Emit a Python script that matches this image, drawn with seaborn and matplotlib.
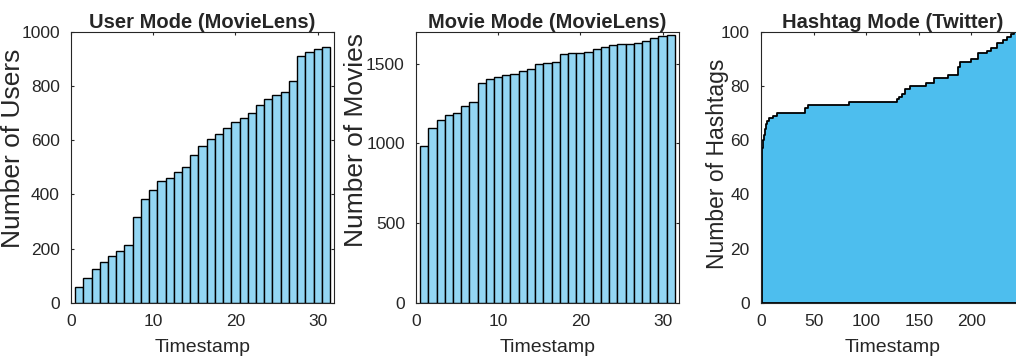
import matplotlib
matplotlib.use("Agg")
import matplotlib.pyplot as plt
import seaborn as sns

# Cumulative counts per timestamp (MovieLens)
timestamps = list(range(1, 32))
users = [57, 90, 123, 152, 173, 189, 213, 315, 384, 416, 449, 461, 482, 501, 544,
         577, 603, 621, 646, 665, 683, 701, 731, 750, 766, 777, 817, 909, 926, 937, 945]
movies = [982, 1093, 1145, 1176, 1191, 1237, 1256, 1381, 1404, 1414, 1429, 1435, 1452,
          1469, 1500, 1506, 1512, 1560, 1564, 1568, 1575, 1592, 1606, 1617, 1625, 1625,
          1627, 1644, 1661, 1673, 1680]

# Hashtag mode (Twitter): timestamps where the cumulative count changes, and the count
hashtag_ts = [1, 2, 3, 4, 5, 6, 8, 11, 15, 42, 45, 84, 129, 131, 134, 137, 142, 157,
              164, 178, 187, 189, 200, 206, 215, 219, 224, 230, 234, 238, 240]
hashtag_count = [57, 60, 62, 64, 66, 67, 68, 69, 70, 72, 73, 74, 75, 76, 77, 79, 80, 81,
                 83, 84, 87, 89, 90, 92, 93, 94, 96, 97, 98, 99, 100]
hashtag_end = 246

sns.set_style("ticks")
plt.rcParams["font.family"] = ["Liberation Sans", "DejaVu Sans"]
plt.rcParams["axes.edgecolor"] = "#262626"
plt.rcParams["xtick.color"] = "#262626"
plt.rcParams["ytick.color"] = "#262626"
plt.rcParams["xtick.direction"] = "in"
plt.rcParams["ytick.direction"] = "in"

fig = plt.figure(figsize=(10.16, 3.64), dpi=100)
w, h, b = 0.2589, 0.7445, 0.1684
ax1 = fig.add_axes([0.0699, b, w, h])
ax2 = fig.add_axes([0.4094, b, w, h])
ax3 = fig.add_axes([0.7490, b, w, h])

light = "#93D6F3"
sns.histplot(x=timestamps, weights=users, discrete=True, color=light, alpha=1,
             edgecolor="black", linewidth=1.0, ax=ax1)
sns.histplot(x=timestamps, weights=movies, discrete=True, color=light, alpha=1,
             edgecolor="black", linewidth=1.0, ax=ax2)
sns.histplot(x=hashtag_ts, weights=hashtag_count, bins=hashtag_ts + [hashtag_end],
             element="step", fill=True, color="#4DBEEE", alpha=1,
             edgecolor="black", linewidth=1.3, ax=ax3)

ax1.set(xlim=(0, 32), ylim=(0, 1000), xticks=[0, 10, 20, 30],
        yticks=[0, 200, 400, 600, 800, 1000])
ax2.set(xlim=(0, 32), ylim=(0, 1700), xticks=[0, 10, 20, 30],
        yticks=[0, 500, 1000, 1500])
ax3.set(xlim=(0, 250), ylim=(0, 100), xticks=[0, 50, 100, 150, 200],
        yticks=[0, 20, 40, 60, 80, 100])

titles = ["User Mode (MovieLens)", "Movie Mode (MovieLens)", "Hashtag Mode (Twitter)"]
ylabels = ["Number of Users", "Number of Movies", "Number of Hashtags"]
ylabel_pos = [(-0.175, 0.571), (-0.183, 0.60), (-0.12, 0.512)]
ylabel_size = [19, 19, 16.5]
for ax, t, yl, pos, fs in zip([ax1, ax2, ax3], titles, ylabels, ylabel_pos, ylabel_size):
    ax.set_title(t, fontsize=14.5, fontweight="bold", pad=3)
    ax.set_xlabel("Timestamp", fontsize=14, color="#262626", labelpad=7)
    ax.set_ylabel(yl, fontsize=fs, color="#262626")
    ax.yaxis.set_label_coords(*pos)
    ax.tick_params(labelsize=12.5, length=2.5, width=0.8, top=True, right=True)
    ax.tick_params(axis="x", pad=8)
    ax.tick_params(axis="y", pad=8)
    for s in ax.spines.values():
        s.set_visible(True)
        s.set_linewidth(0.8)

fig.savefig("out.png", dpi=100)
